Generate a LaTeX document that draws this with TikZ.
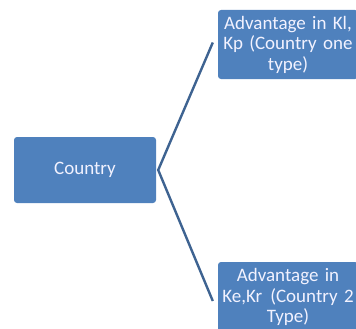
\documentclass[tikz,border=0pt]{standalone}
\usepackage{fontspec}
\setmainfont{Carlito}
\definecolor{boxblue}{HTML}{4F81BD}
\definecolor{lineblue}{HTML}{3E6391}
\newcommand{\boxfont}{\fontsize{19}{20.5}\selectfont\spaceskip=3.8pt plus 1.5pt minus 1pt\relax}
\begin{document}
\begin{tikzpicture}[x=1pt,y=-1pt,
  blubox/.style={fill=boxblue, draw=none, rounded corners=3pt, text=white!95!blue,
    align=center, inner sep=0pt, font=\boxfont},
  conn/.style={draw=lineblue, line width=2.4pt}]
\useasboundingbox (0,0) rectangle (356,329);
\node[blubox, minimum width=142pt, minimum height=66pt] (c) at (85,170) {Country};
\node[blubox, minimum width=140pt, minimum height=69pt, text width=140pt] (t) at (288,44.5) {Advantage in Kl,\\Kp (Country one\\type)};
\node[blubox, minimum width=140pt, minimum height=70pt, text width=140pt] (b) at (288,297) {Advantage in\\Ke,Kr\hspace{8pt}(Country 2\\Type)};
\coordinate (ct) at ([xshift=-5pt,yshift=2pt]t.west);
\coordinate (cb) at ([xshift=-5pt,yshift=-4pt]b.west);
\draw[conn] (ct) -- ([xshift=2pt]c.east) -- (cb);
\end{tikzpicture}
\end{document}
